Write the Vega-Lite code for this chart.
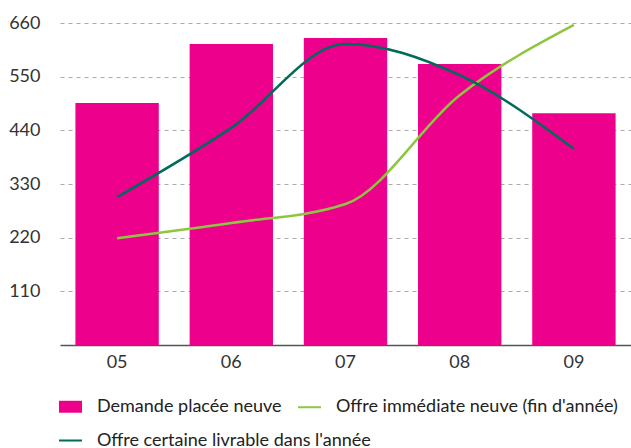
{
  "$schema": "https://vega.github.io/schema/vega-lite/v6.json",
  "width": 571,
  "height": 322,
  "autosize": "none",
  "padding": {"left": 60, "top": 23, "right": 0, "bottom": 103},
  "config": {
    "view": {"stroke": null},
    "font": "Lato",
    "axis": {"labelFont": "Lato", "labelColor": "#333333"},
    "legend": {"labelFont": "Lato", "labelFontSize": 18, "labelColor": "#222222", "labelOffset": 14, "columnPadding": 12, "symbolSize": 529, "symbolStrokeWidth": 2, "labelLimit": 400}
  },
  "data": {
    "values": [
      {"year": "05", "series": "Demande placée neuve", "value": 496},
      {"year": "06", "series": "Demande placée neuve", "value": 617},
      {"year": "07", "series": "Demande placée neuve", "value": 629},
      {"year": "08", "series": "Demande placée neuve", "value": 576},
      {"year": "09", "series": "Demande placée neuve", "value": 475},
      {"year": "05", "series": "Offre immédiate neuve (fin d'année)", "value": 219},
      {"year": "06", "series": "Offre immédiate neuve (fin d'année)", "value": 250},
      {"year": "07", "series": "Offre immédiate neuve (fin d'année)", "value": 289},
      {"year": "08", "series": "Offre immédiate neuve (fin d'année)", "value": 512},
      {"year": "09", "series": "Offre immédiate neuve (fin d'année)", "value": 656},
      {"year": "05", "series": "Offre certaine livrable dans l'année", "value": 303},
      {"year": "06", "series": "Offre certaine livrable dans l'année", "value": 445},
      {"year": "07", "series": "Offre certaine livrable dans l'année", "value": 617},
      {"year": "08", "series": "Offre certaine livrable dans l'année", "value": 553},
      {"year": "09", "series": "Offre certaine livrable dans l'année", "value": 402}
    ]
  },
  "encoding": {
    "x": {
      "field": "year", "type": "ordinal",
      "scale": {"paddingInner": 0.27, "paddingOuter": 0.135},
      "axis": {"title": null, "labelAngle": 0, "labelFontSize": 18, "labelPadding": 8, "ticks": false, "domainColor": "#555555", "domainWidth": 1.5}
    },
    "y": {
      "field": "value", "type": "quantitative",
      "scale": {"domain": [0, 660], "nice": false},
      "axis": {"title": null, "values": [110, 220, 330, 440, 550, 660], "labelFontSize": 18, "labelPadding": 20, "ticks": false, "domain": false, "gridDash": [4, 4], "gridColor": "#aaaaaa", "gridWidth": 1.2}
    }
  },
  "layer": [
    {
      "transform": [{"filter": "datum.series === 'Demande placée neuve'"}],
      "mark": {"type": "bar"},
      "encoding": {
        "fill": {
          "field": "series", "type": "nominal",
          "scale": {
            "domain": ["Demande placée neuve", "Offre immédiate neuve (fin d'année)"],
            "range": ["#ec008c", "#8dc63f"]
          },
          "legend": {
            "title": null, "orient": "none", "legendX": -2, "legendY": 371,
            "direction": "horizontal",
            "encode": {
              "symbols": {
                "update": {
                  "shape": {"signal": "datum.value === 'Demande placée neuve' ? 'M-1,-0.52H1V0.52H-1Z' : 'stroke'"},
                  "fill": {"signal": "datum.value === 'Demande placée neuve' ? '#ec008c' : 'transparent'"},
                  "stroke": {"signal": "datum.value === 'Demande placée neuve' ? 'transparent' : '#8dc63f'"},
                  "strokeWidth": {"value": 2}
                }
              }
            }
          }
        }
      }
    },
    {
      "transform": [{"filter": "datum.series !== 'Demande placée neuve'"}],
      "mark": {"type": "line", "interpolate": "monotone", "strokeWidth": 2.5},
      "encoding": {
        "stroke": {
          "field": "series", "type": "nominal",
          "scale": {
            "domain": ["Offre immédiate neuve (fin d'année)", "Offre certaine livrable dans l'année"],
            "range": ["#8dc63f", "#006b5b"]
          },
          "legend": {
            "title": null, "orient": "none", "legendX": -2, "legendY": 405,
            "values": ["Offre certaine livrable dans l'année"],
            "symbolType": "stroke"
          }
        }
      }
    }
  ]
}
